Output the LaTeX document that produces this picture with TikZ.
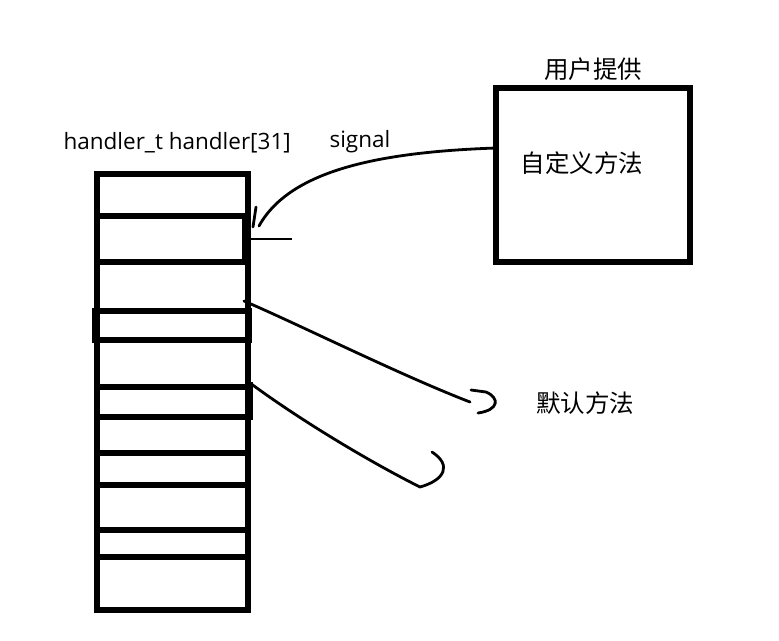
\documentclass[tikz,border=0pt]{standalone}
\usepackage{fontspec}
\setmainfont{Open Sans}
\newfontfamily\cjk{Noto Sans CJK SC}
\usetikzlibrary{positioning,calc}

\begin{document}
\begin{tikzpicture}[x=1pt,y=-1pt,
  cell/.style={draw,line width=6pt,minimum width=151pt,inner sep=0pt,outer sep=0pt},
  hand/.style={line width=2.8pt,line cap=round,line join=round},
  lbl/.style={font=\fontsize{22.5}{26}\selectfont},
  zh/.style={font=\cjk\fontsize{24.5}{28}\selectfont}]
\useasboundingbox (0,0) rectangle (779,640);
\foreach \a/\b [count=\i] in {174/216,216/262,262/311,311/340,340/387,387/417,417/453,453/485,485/530,530/557,557/610}
  \node[cell,minimum height={(\b-\a)*1pt}] (c\i) at (172.5,{(\a+\b)/2}) {};
\fill ([xshift=-6pt]c2.north east) rectangle ([xshift=3pt]c2.south east);
\draw[line width=6pt] ([xshift=-2pt]c4.north west) rectangle ([xshift=1pt]c4.south east);
\fill ([xshift=-3pt,yshift=5pt]c6.north east) rectangle ([xshift=5pt,yshift=-3pt]c6.south east);

\node[lbl,anchor=west] (arr) at (60,143) {handler\_t handler[31]};
\node[lbl,anchor=west] (sig) at (326,142) {signal};
\node[draw,line width=6pt,minimum width=194pt,minimum height=174pt,inner sep=0pt] (usr) at (593,175) {};
\node[zh,above=1pt of usr] (who) {用户提供};
\node[zh] (cus) at (582,163) {自定义方法};
\node[zh] (dft) at (585,403) {默认方法};

\draw[hand] ($(usr.north west)+(3,63)$) .. controls (380,152) and (290,170) .. (259,226);
\draw[hand] (256,207) -- (253,227);
\draw[line width=2pt] (c2.east) -- ++(44,0);
\draw[hand] ($(c3.south east)+(-4,-10)$) .. controls (300,325) and (400,375) .. (470,402);
\draw[hand] (471,390) -- (486,392) .. controls (500,398) and (499,410) .. (478,413);
\draw[hand] ($(c6.north east)+(2,-4)$) .. controls (300,420) and (370,462) .. (420,487)
  .. controls (445,480) and (452,465) .. (432,452);
\end{tikzpicture}
\end{document}
